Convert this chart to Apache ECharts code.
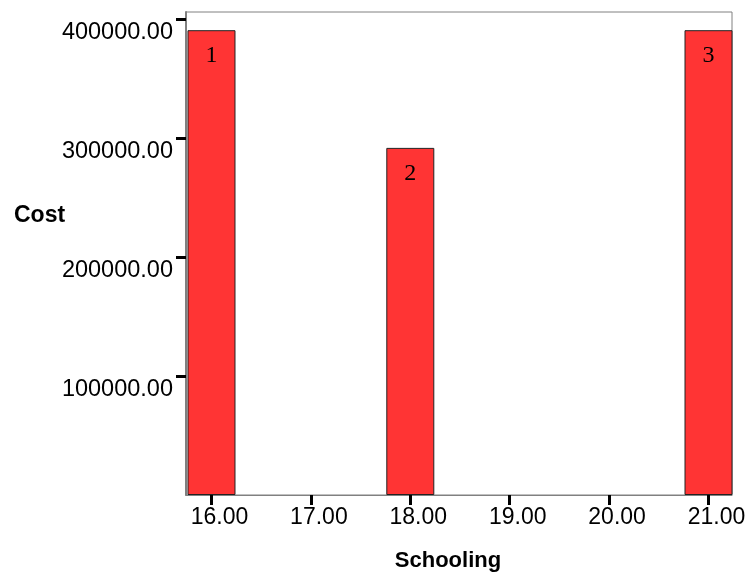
<!DOCTYPE html>
<html>
<head>
<meta charset="utf-8">
<script src="https://cdn.jsdelivr.net/npm/echarts@6/dist/echarts.min.js"></script>
<style>html,body{margin:0;padding:0;background:#fff}#c{width:748px;height:572px}</style>
</head>
<body>
<div id="c"></div>
<script>
const schooling = [16, 18, 21];
const cost = [391000, 292000, 391000];
const barLabels = ['1', '2', '3'];
const xTicks = [16, 17, 18, 19, 20, 21];
const yTicks = [100000, 200000, 300000, 400000];

const chart = echarts.init(document.getElementById('c'), null, {renderer: 'canvas'});
chart.setOption({
  animation: false,
  backgroundColor: '#fff',
  grid: {left: 186, top: 12, right: 16, bottom: 77, show: true, borderColor: '#808080', borderWidth: 1, containLabel: false, outerBoundsMode: 'none'},
  graphic: [{
    type: 'text', left: 14, top: 204,
    style: {text: 'Cost', fontFamily: 'Liberation Sans', fontSize: 23, fontWeight: 'bold', fill: '#000'}
  }],
  xAxis: {
    type: 'value', min: 15.7435, max: 21.2364,
    name: 'Schooling', nameLocation: 'middle', nameGap: 55,
    nameTextStyle: {fontFamily: 'Liberation Sans', fontSize: 22, fontWeight: 'bold', color: '#000', padding: [0,22,0,0]},
    axisLine: {show: true, lineStyle: {color: '#808080', width: 1}},
    axisTick: {show: true, length: 10, lineStyle: {color: '#000', width: 3}, customValues: xTicks},
    axisLabel: {customValues: xTicks, formatter: v => v.toFixed(2), fontFamily: 'Liberation Sans', fontSize: 23, color: '#000', margin: 11, padding: [0,0,0,16]},
    splitLine: {show: false}
  },
  yAxis: {
    type: 'value', min: 0, max: 406300,
    axisLine: {show: true, lineStyle: {color: '#808080', width: 2}},
    axisTick: {show: true, length: 10, lineStyle: {color: '#000', width: 3}, customValues: yTicks},
    axisLabel: {customValues: yTicks, formatter: v => v.toFixed(2), fontFamily: 'Liberation Sans', fontSize: 23.5, color: '#000', margin: 13, verticalAlign: 'top', padding: [1,0,0,0]},
    splitLine: {show: false}
  },
  series: [{
    type: 'bar',
    barWidth: 48,
    data: schooling.map((s, i) => [s, cost[i]]),
    itemStyle: {color: '#ff3434', borderColor: '#222', borderWidth: 1},
    label: {
      show: true, position: 'insideTop', distance: 14,
      formatter: p => barLabels[p.dataIndex],
      fontFamily: 'Liberation Serif', fontSize: 24, color: '#000'
    }
  }]
});
</script>
</body>
</html>
